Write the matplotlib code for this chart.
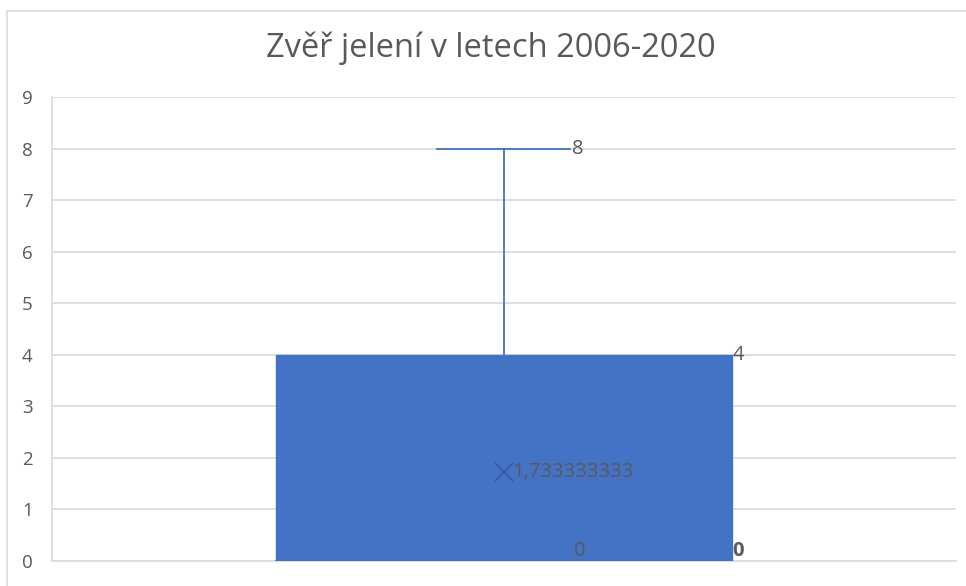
import matplotlib
matplotlib.use("Agg")
import matplotlib.pyplot as plt
from matplotlib.patches import Rectangle

# Data (box plot summary)
title = "Zvěř jelení v letech 2006-2020"
category = ["Zvěř jelení"]
minimum = [0]
q1 = [0]
median = [0]
q3 = [4]
maximum = [8]
mean = [1.733333333]
yticks = [0, 1, 2, 3, 4, 5, 6, 7, 8, 9]

W, H = 966, 586
fig = plt.figure(figsize=(W / 100, H / 100), dpi=100)
fig.patch.set_facecolor("white")

# outer chart border
fig.add_artist(Rectangle((7 / W, -0.01), 1.05, (H - 11) / H + 0.01, transform=fig.transFigure,
                         fill=False, edgecolor="#d9d9d9", linewidth=1.2))

ax = fig.add_axes([52 / W, 25 / H, (956 - 52) / W, (561 - 97) / H])
ax.set_xlim(0, 2)
ax.set_ylim(0, 9)
ax.set_yticks(yticks)
ax.set_xticks([])
ax.grid(axis="y", color="#d9d9d9", linewidth=1.2)
ax.set_axisbelow(True)
for s in ["top", "right"]:
    ax.spines[s].set_visible(False)
ax.spines["left"].set_color("#d9d9d9")
ax.spines["bottom"].set_color("#d9d9d9")
ax.spines["left"].set_linewidth(1.2)
ax.spines["bottom"].set_linewidth(1.2)
ax.tick_params(axis="y", length=0, pad=14, labelsize=13.5, labelcolor="#595959")
for t in ax.get_yticklabels():
    t.set_fontfamily("Open Sans")

blue = "#4472c4"
xc = 1.0
pw = 956 - 52
half_w = (732 - 276) / 2 / pw * 2
cap_w = (570 - 437) / 2 / pw * 2
txtc = "#595959"
fs = 14.5
for i in range(len(category)):
    ax.add_patch(Rectangle((xc - half_w, q1[i]), 2 * half_w, q3[i] - q1[i],
                           facecolor=blue, edgecolor=blue, zorder=3))
    ax.plot([xc, xc], [q3[i], maximum[i]], color=blue, lw=1.3, zorder=3)
    ax.plot([xc - cap_w, xc + cap_w], [maximum[i], maximum[i]], color=blue, lw=1.3, zorder=3)
    ax.plot([xc - half_w, xc + half_w], [median[i], median[i]], color=blue, lw=1.3, zorder=3)
    ax.plot([xc], [mean[i]], marker="x", color="#3a5a9a", markersize=13, mew=1.2, zorder=4)
    ax.text(xc + cap_w + 0.003, maximum[i], f"{maximum[i]}", ha="left", va="center",
            fontsize=fs, color=txtc, fontfamily="Open Sans", zorder=5)
    ax.text(xc + half_w + 0.001, q3[i], f"{q3[i]}", ha="left", va="center",
            fontsize=fs, color=txtc, fontfamily="Open Sans", zorder=5)
    ax.text(xc + half_w + 0.001, q1[i] + 0.19, f"{q1[i]}", ha="left", va="center",
            fontsize=fs, color=txtc, fontfamily="Open Sans", fontweight="bold", zorder=5)
    ax.text(xc + 0.167, median[i] + 0.19, f"{median[i]}", ha="center", va="center",
            fontsize=fs, color=txtc, fontfamily="Open Sans", zorder=5)
    ax.text(xc + 0.018, mean[i], f"{mean[i]:.9f}".replace(".", ","), ha="left", va="center",
            fontsize=fs, color=txtc, fontfamily="Open Sans", zorder=5)

fig.text(491 / W, 1 - 48 / H, title, ha="center", va="center", fontsize=23.5,
         color="#595959", fontfamily="Open Sans")

fig.savefig("out.png", dpi=100)
